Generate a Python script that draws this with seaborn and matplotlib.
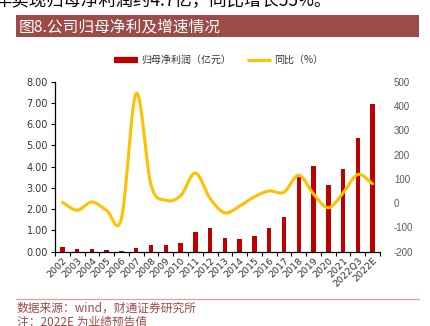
import numpy as np
import pandas as pd
import matplotlib
matplotlib.use("Agg")
import matplotlib.pyplot as plt
import seaborn as sns
from matplotlib.lines import Line2D
from matplotlib.patches import Rectangle

# ---------------- data ----------------
years = ["2002", "2003", "2004", "2005", "2006", "2007", "2008", "2009", "2010",
         "2011", "2012", "2013", "2014", "2015", "2016", "2017", "2018", "2019",
         "2020", "2021", "2022Q3", "2022E"]
profit = [0.20, 0.14, 0.14, 0.09, 0.03, 0.17, 0.30, 0.33, 0.42, 0.92, 1.10,
          0.64, 0.58, 0.75, 1.10, 1.64, 3.51, 4.05, 3.13, 3.90, 5.36, 6.94]
yoy = [3, -29, 5, -30, -62, 452, 75, 12, 30, 124, 19, -40, -12, 26, 50, 45,
       115, 38, -19, 42, 118, 80]
left_ticks = [0, 1, 2, 3, 4, 5, 6, 7, 8]
right_ticks = [-200, -100, 0, 100, 200, 300, 400, 500]

title = "图8.公司归母净利及增速情况"
bar_label = "归母净利润（亿元）"
line_label = "同比（%）"
source = "数据来源：wind，财通证券研究所"
note = "注：2022E 为业绩预告值"
top_text = "年实现归母净利润约4.7亿，同比增长55%。"

RED = "#C00000"
GOLD = "#FFC000"
BANNER = "#9C4B47"

sns.set_theme(style="white")
plt.rcParams["font.family"] = ["Noto Sans CJK SC", "DejaVu Sans"]
plt.rcParams["axes.unicode_minus"] = False

W, H = 430, 326
fig = plt.figure(figsize=(W / 100, H / 100), dpi=100)


def fx(px):
    return px / W


def fy(py):
    return 1 - py / H


ax = fig.add_axes([fx(55), fy(251.7), fx(380) - fx(55), fy(81.7) - fy(251.7)])

df = pd.DataFrame({"year": years, "profit": profit})
sns.barplot(data=df, x="year", y="profit", ax=ax, color=RED, width=0.3,
            saturation=1, edgecolor="none")
ax.set_xlim(-0.5, len(years) - 0.5)
ax.set_ylim(0, 8)
ax.set_yticks(left_ticks)
ax.set_yticklabels([f"{v:.2f}" for v in left_ticks], fontsize=7,
                   color="#333333", family="DejaVu Sans")
ax.set_xlabel("")
ax.set_ylabel("")
ax.set_xticks(range(len(years)))
ax.set_xticklabels(years, rotation=45, ha="right", rotation_mode="anchor",
                   fontsize=6.8, color="#333333", family="DejaVu Sans")
for lab in ax.get_xticklabels():
    lab.set_transform(lab.get_transform() +
                      matplotlib.transforms.ScaledTranslation(3 / 100, 0, fig.dpi_scale_trans))
ax.set_xticks(np.arange(-0.5, len(years), 1.0), minor=True)
ax.tick_params(axis="x", which="major", length=0, pad=3)
ax.tick_params(axis="x", which="minor", length=3, width=0.8, color="black",
               direction="out", bottom=True)
ax.tick_params(axis="y", which="major", length=3, width=0.8, color="black",
               direction="out", left=True, pad=2)
for s in ["top", "right"]:
    ax.spines[s].set_visible(False)
for s in ["left", "bottom"]:
    ax.spines[s].set_color("black")
    ax.spines[s].set_linewidth(0.9)
ax.set_facecolor("none")

# ---- smoothed YoY line on secondary axis ----
ax2 = ax.twinx()
xs = np.arange(len(years), dtype=float)
ys = np.array(yoy, dtype=float)
px = np.concatenate([[2 * xs[0] - xs[1]], xs, [2 * xs[-1] - xs[-2]]])
py = np.concatenate([[2 * ys[0] - ys[1]], ys, [2 * ys[-1] - ys[-2]]])
sx, sy = [], []
t = np.linspace(0, 1, 25)
for i in range(1, len(px) - 2):
    for arr, out in ((px, sx), (py, sy)):
        p0, p1, p2, p3 = arr[i - 1], arr[i], arr[i + 1], arr[i + 2]
        seg = 0.5 * ((2 * p1) + (-p0 + p2) * t +
                     (2 * p0 - 5 * p1 + 4 * p2 - p3) * t ** 2 +
                     (-p0 + 3 * p1 - 3 * p2 + p3) * t ** 3)
        out.extend(seg if i == 1 else seg[1:])
ax2.plot(sx, sy, color=GOLD, lw=2.2, solid_capstyle="round")
ax2.set_ylim(-200, 500)
ax2.set_yticks(right_ticks)
ax2.set_yticklabels([str(v) for v in right_ticks], fontsize=7,
                    color="#595959", family="Liberation Sans")
ax2.tick_params(axis="y", length=0, pad=10)
ax2.set_ylabel("")
for s in ax2.spines.values():
    s.set_visible(False)
ax2.grid(False)
ax.grid(False)

# ---- legend ----
handles = [Line2D([0], [0], color=RED, lw=4.5, solid_capstyle="butt"),
           Line2D([0], [0], color=GOLD, lw=2.2, solid_capstyle="butt")]
fig.legend(handles, [bar_label, line_label], loc="center",
           bbox_to_anchor=(fx(219), fy(60)), ncol=2, frameon=False,
           fontsize=7.2, handlelength=2.4, handletextpad=0.3,
           columnspacing=1.6, labelcolor="#333333")

# ---- title banner ----
fig.patches.append(Rectangle((fx(16), fy(37.3)), fx(418.7) - fx(16),
                             fy(15) - fy(37.3), transform=fig.transFigure,
                             facecolor=BANNER, edgecolor="none", zorder=0))
fig.text(fx(19), fy(26.5), title, color="white", fontsize=11.3,
         va="center", ha="left")

# ---- top cut-off text (cut off in the reference as well) ----
fig.text(fx(-6), fy(1), top_text, color="black", fontsize=12.5,
         va="center", ha="left")

# ---- footer ----
fig.add_artist(Line2D([fx(16), fx(418.7)], [fy(299), fy(299)],
                      transform=fig.transFigure, color="#D7A3A1", lw=0.9))
fig.text(fx(17), fy(308.5), source, color=BANNER, fontsize=8.5,
         va="center", ha="left")
fig.text(fx(17), fy(322), note, color=BANNER, fontsize=8.5,
         va="center", ha="left")

fig.savefig("out.png", dpi=100)
